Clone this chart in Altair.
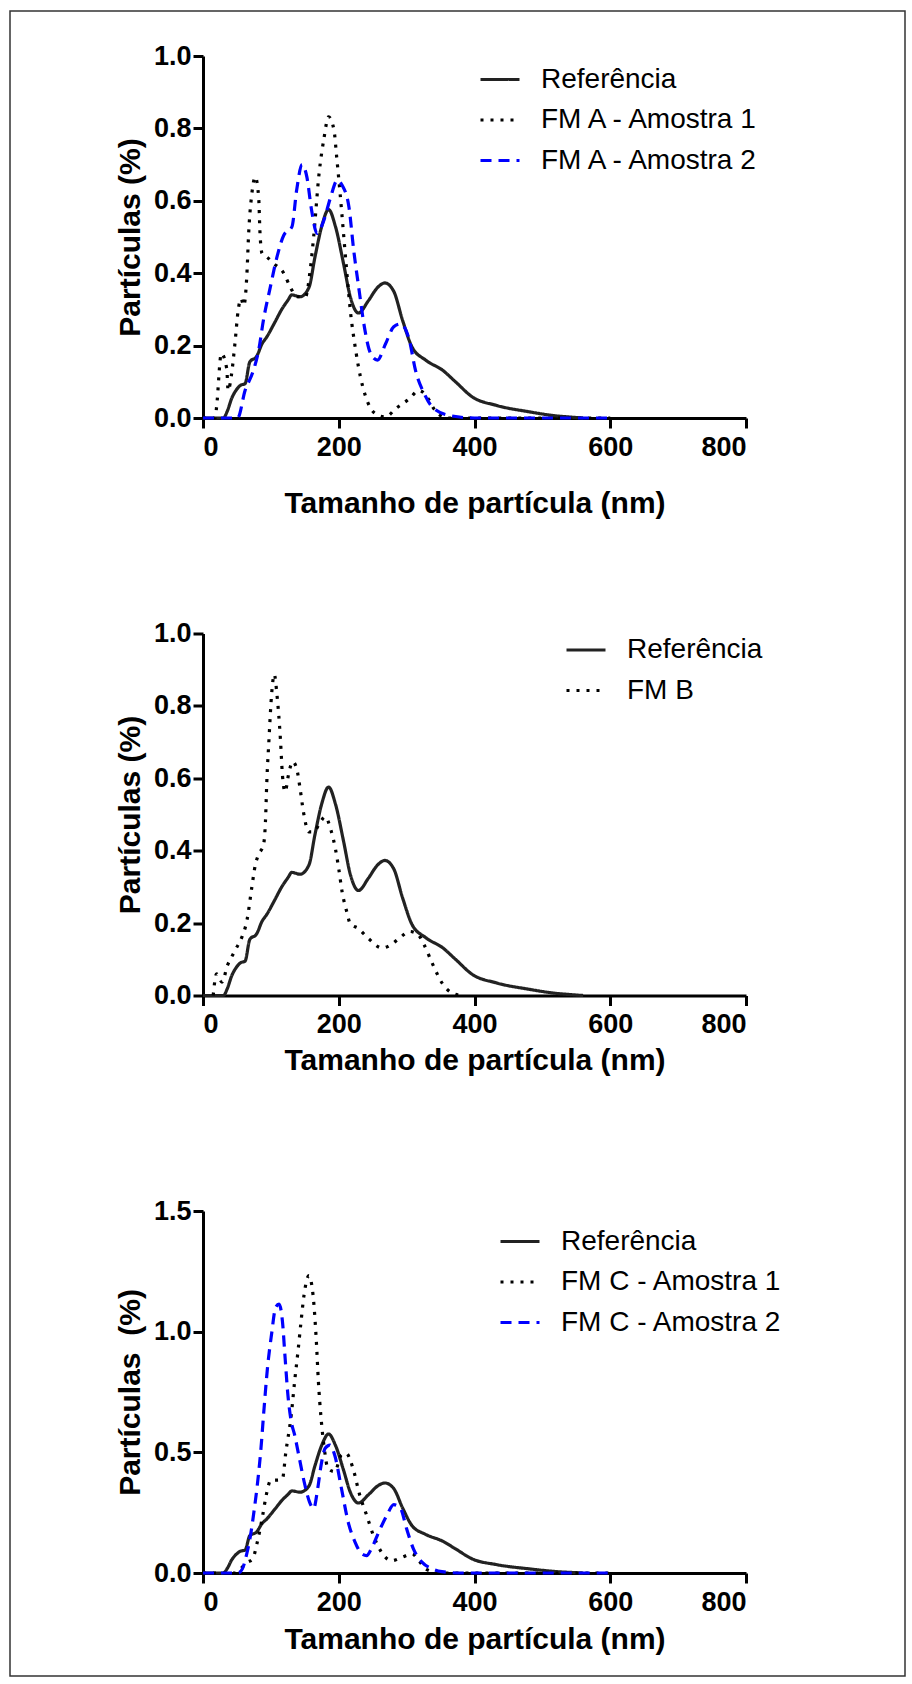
import altair as alt
import pandas as pd

FONT = "Liberation Sans"

# ---- Referência (same curve in all panels) ----
ref_x = [0, 30, 36, 42, 50, 55, 62, 69, 79, 87, 94, 106, 116, 125, 131, 143, 156, 165, 175, 185,
         195, 207, 217, 229, 244, 257, 268, 281, 294, 308, 328, 353, 372, 397, 432, 481, 520, 545, 560]
ref_y = [0, 0, 0.02, 0.053, 0.08, 0.09, 0.095, 0.155, 0.17, 0.205, 0.224, 0.265, 0.30, 0.325, 0.34,
         0.335, 0.36, 0.445, 0.53, 0.576, 0.53, 0.427, 0.335, 0.29, 0.325, 0.36, 0.373, 0.35, 0.27,
         0.196, 0.16, 0.132, 0.10, 0.058, 0.035, 0.017, 0.006, 0.002, 0]

# ---- Panel 1: FM A ----
a1_x = [0, 18, 20, 27, 35, 37, 42, 47, 52, 56, 60, 65, 67, 72, 77, 82, 84, 87, 94, 104, 119, 129,
        138, 151, 158, 163, 171, 178, 185, 193, 197, 202, 207, 212, 217, 225, 232, 239, 254, 269,
        284, 304, 318, 333, 340, 360, 600]
a1_y = [0, 0, 0.03, 0.178, 0.136, 0.076, 0.12, 0.205, 0.30, 0.33, 0.31, 0.41, 0.50, 0.62, 0.666,
        0.61, 0.51, 0.455, 0.445, 0.427, 0.40, 0.36, 0.335, 0.335, 0.41, 0.50, 0.675, 0.77, 0.832,
        0.795, 0.72, 0.62, 0.51, 0.40, 0.298, 0.187, 0.113, 0.063, 0.012, 0.003, 0.026, 0.053,
        0.076, 0.05, 0.026, 0, 0]
a2_x = [0, 51, 62, 74, 82, 89, 99, 109, 119, 131, 138, 146, 153, 160, 168, 178, 188, 198, 205, 215,
        222, 230, 237, 247, 257, 269, 281, 291, 304, 313, 326, 338, 363, 400, 600]
a2_y = [0, 0, 0.076, 0.13, 0.187, 0.27, 0.36, 0.445, 0.505, 0.528, 0.63, 0.70, 0.666, 0.574, 0.51,
        0.546, 0.61, 0.657, 0.643, 0.583, 0.464, 0.353, 0.26, 0.178, 0.16, 0.205, 0.252, 0.26,
        0.215, 0.132, 0.067, 0.03, 0.007, 0, 0]

# ---- Panel 2: FM B ----
b_x = [15, 20, 28, 36, 42, 50, 57, 65, 72, 77, 82, 89, 92, 94, 97, 101, 105, 109, 114, 117, 121,
       126, 132, 138, 143, 148, 156, 163, 173, 180, 188, 195, 200, 205, 212, 217, 229, 244, 264,
       279, 291, 304, 316, 325, 338, 353, 365, 380]
b_y = [0, 0.06, 0.037, 0.083, 0.106, 0.134, 0.16, 0.21, 0.30, 0.36, 0.39, 0.415, 0.48, 0.59, 0.70,
       0.83, 0.887, 0.83, 0.71, 0.61, 0.563, 0.61, 0.646, 0.627, 0.572, 0.507, 0.452, 0.452, 0.48,
       0.494, 0.46, 0.406, 0.35, 0.286, 0.23, 0.198, 0.185, 0.157, 0.131, 0.143, 0.161, 0.177,
       0.17, 0.143, 0.088, 0.032, 0.009, 0]

# ---- Panel 3: FM C ----
c1_x = [0, 46, 55, 65, 73, 80, 88, 93, 100, 110, 117, 122, 130, 135, 140, 144, 149, 156, 162, 167,
        170, 174, 179, 184, 194, 204, 211, 221, 231, 241, 251, 263, 278, 293, 308, 318, 328, 343,
        360, 600]
c1_y = [0, 0, 0.017, 0.044, 0.058, 0.128, 0.24, 0.32, 0.385, 0.385, 0.39, 0.50, 0.655, 0.794, 0.92,
        1.03, 1.155, 1.232, 1.155, 0.96, 0.794, 0.64, 0.51, 0.433, 0.42, 0.49, 0.496, 0.433, 0.322,
        0.24, 0.156, 0.086, 0.051, 0.065, 0.079, 0.051, 0.017, 0.003, 0, 0]
c2_x = [0, 52, 58, 65, 70, 75, 80, 85, 90, 95, 101, 107, 112, 117, 121, 125, 130, 135, 142, 149,
        157, 163, 169, 174, 180, 187, 194, 204, 214, 224, 234, 241, 248, 259, 271, 281, 291, 300,
        310, 323, 338, 352, 380, 600]
c2_y = [0, 0, 0.017, 0.086, 0.156, 0.253, 0.364, 0.503, 0.683, 0.85, 0.989, 1.10, 1.114, 1.044,
        0.89, 0.74, 0.628, 0.572, 0.475, 0.378, 0.294, 0.267, 0.35, 0.447, 0.517, 0.53, 0.489, 0.35,
        0.21, 0.128, 0.079, 0.072, 0.1, 0.17, 0.24, 0.283, 0.267, 0.183, 0.1, 0.044, 0.017, 0.006,
        0, 0]

x_ticks = [0, 200, 400, 600, 800]
y_ticks_1 = [0, 0.2, 0.4, 0.6, 0.8, 1.0]
y_ticks_3 = [0, 0.5, 1.0, 1.5]

REF = "Referência"
SOLID = [1, 0]
DOTS = [3, 7]
DASH = [11, 7]


def make_df(series):
    rows = []
    for name, xs, ys in series:
        for x, y in zip(xs, ys):
            rows.append({"serie": name, "x": x, "y": y})
    return pd.DataFrame(rows)


def panel(series, colors, dashes, ymax, yticks, ytitle, lx, ly, tpad):
    names = [s[0] for s in series]
    df = make_df(series)
    leg = alt.Legend(title=None, orient="none", legendX=lx, legendY=ly,
                     symbolType="stroke", symbolSize=1521, symbolStrokeWidth=3,
                     labelFont=FONT, labelFontSize=28, labelColor="black", labelLimit=0,
                     labelOffset=20, rowPadding=5.5, padding=0)
    return alt.Chart(df).mark_line(interpolate="monotone", strokeWidth=3.2).encode(
        x=alt.X("x:Q", scale=alt.Scale(domain=[0, 800], nice=False),
                axis=alt.Axis(values=x_ticks, title="Tamanho de partícula (nm)",
                              titlePadding=tpad)),
        y=alt.Y("y:Q", scale=alt.Scale(domain=[0, ymax], nice=False),
                axis=alt.Axis(values=yticks, format=".1f", title=ytitle)),
        color=alt.Color("serie:N", scale=alt.Scale(domain=names, range=colors), legend=leg),
        strokeDash=alt.StrokeDash("serie:N", scale=alt.Scale(domain=names, range=dashes),
                                  legend=leg),
    ).properties(width=543, height=362)


p1_lines = panel([(REF, ref_x, ref_y), ("FM A - Amostra 1", a1_x, a1_y),
                  ("FM A - Amostra 2", a2_x, a2_y)],
                 ["#222222", "#000000", "#0000ff"], [SOLID, DOTS, DASH],
                 1.0, y_ticks_1, "Partículas (%)", 276, 2.5, 28.5)

frame = alt.Chart(pd.DataFrame({"k": [0]})).mark_rect(
    fillOpacity=0, stroke="#333333", strokeWidth=1.5
).encode(x=alt.value(-193), x2=alt.value(702), y=alt.value(-45), y2=alt.value(1620))

p1 = alt.layer(frame, p1_lines)

p2 = panel([(REF, ref_x, ref_y), ("FM B", b_x, b_y)],
           ["#222222", "#000000"], [SOLID, DOTS],
           1.0, y_ticks_1, "Partículas (%)", 362, -4.5, 8)

p3 = panel([(REF, ref_x, ref_y), ("FM C - Amostra 1", c1_x, c1_y),
            ("FM C - Amostra 2", c2_x, c2_y)],
           ["#222222", "#000000", "#0000ff"], [SOLID, DOTS, DASH],
           1.5, y_ticks_3, "Partículas\u00a0 (%)", 296, 9.5, 9.5)

chart = alt.vconcat(p1, p2, p3, spacing=215.5, bounds="flush").resolve_scale(
    color="independent", strokeDash="independent"
).properties(
    padding={"left": 9, "top": 10, "right": 0, "bottom": 0},
    background="white",
).configure_view(stroke=None).configure_axis(
    grid=False, domainColor="black", domainWidth=3, tickColor="black", tickWidth=3,
    tickSize=10, labelFont=FONT, labelFontSize=27, labelFontWeight="bold",
    labelColor="black", titleFont=FONT, titleFontSize=30, titleFontWeight="bold",
    titleColor="black",
).configure_axisX(labelPadding=6).configure_axisY(labelPadding=2, titlePadding=8)

chart.save("out.html", embed_options={"renderer": "svg", "actions": False})
